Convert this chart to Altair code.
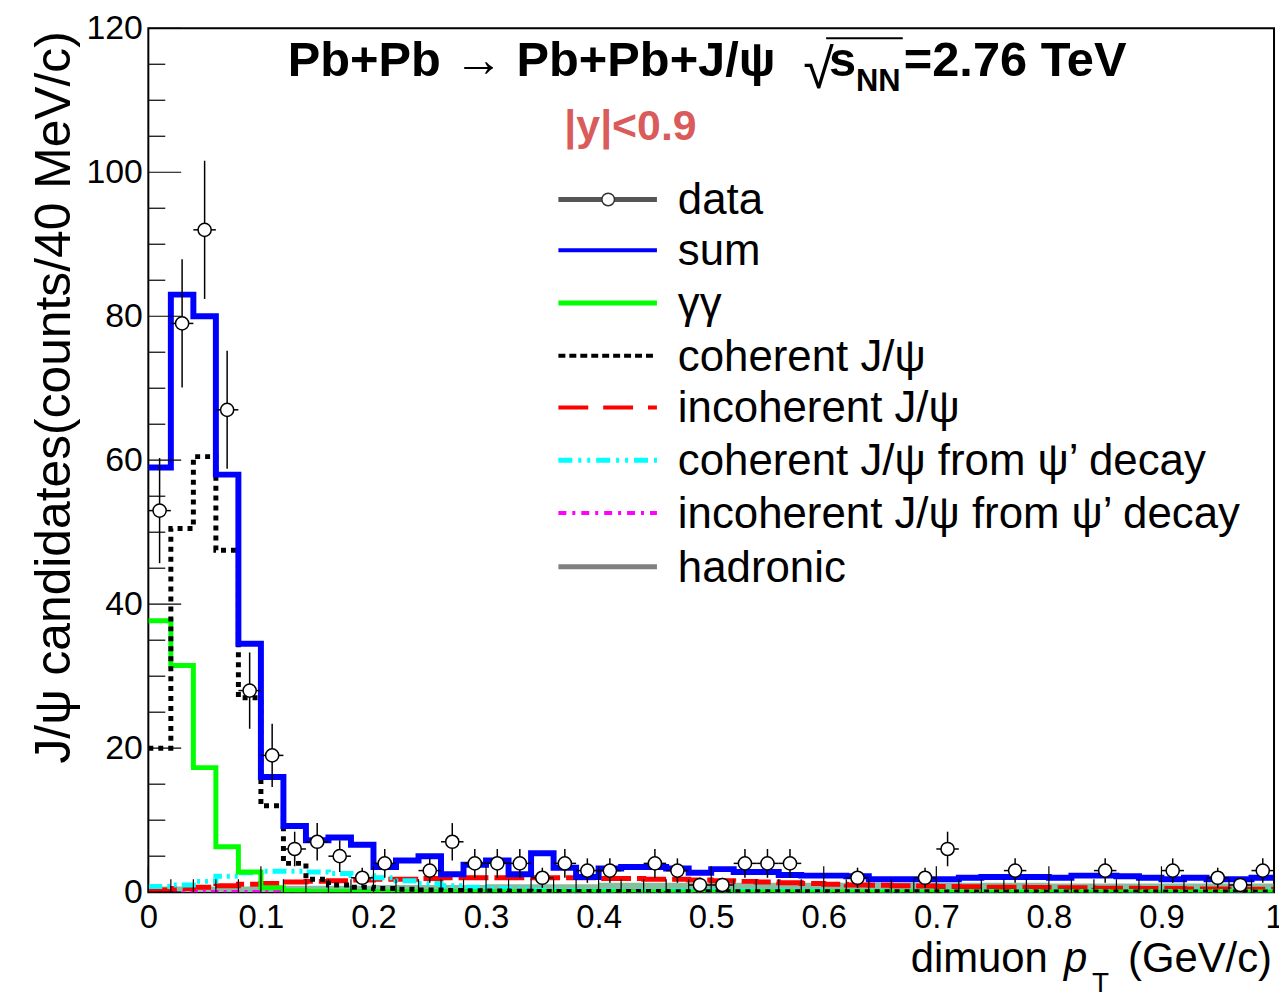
import altair as alt
import pandas as pd

# ---------------- data ----------------
edges = [0.00, 0.02, 0.04, 0.06, 0.08, 0.10, 0.12, 0.14, 0.16, 0.18,
         0.20, 0.22, 0.24, 0.26, 0.28, 0.30, 0.32, 0.34, 0.36, 0.38,
         0.40, 0.42, 0.44, 0.46, 0.48, 0.50, 0.52, 0.54, 0.56, 0.58,
         0.60, 0.62, 0.64, 0.66, 0.68, 0.70, 0.72, 0.74, 0.76, 0.78,
         0.80, 0.82, 0.84, 0.86, 0.88, 0.90, 0.92, 0.94, 0.96, 0.98, 1.00]

sum_vals = [59, 83, 80, 58, 34.5, 16, 9.2, 7.2, 7.6, 6.6,
            3.5, 4.4, 5.0, 2.5, 3.8, 4.4, 2.5, 5.4, 3.4, 2.1,
            3.3, 3.5, 3.5, 3.3, 2.7, 3.2, 2.8, 2.8, 2.4, 2.3,
            2.3, 2.2, 1.8, 1.8, 1.8, 1.8, 2.0, 2.1, 2.1, 2.1,
            2.0, 2.3, 2.3, 2.2, 2.0, 1.8, 2.0, 1.8, 1.8, 2.0]

coh_vals = [20, 50.5, 60.5, 47.5, 27, 12, 4, 1.8, 1.0, 0.7,
            0.5, 0.4, 0.3, 0.25, 0.2, 0.15, 0.12, 0.1, 0.1, 0.1,
            0.08, 0.08, 0.08, 0.07, 0.07, 0.07, 0.06, 0.06, 0.06, 0.05,
            0.05, 0.05, 0.05, 0.05, 0.05, 0.04, 0.04, 0.04, 0.04, 0.04,
            0.04, 0.03, 0.03, 0.03, 0.03, 0.03, 0.03, 0.03, 0.03, 0.03]

gg_vals = [37.7, 31.5, 17.3, 6.3, 2.8, 0.6, 0.2, 0.1, 0.1, 0.05,
           0.05, 0.05, 0.05, 0.05, 0.05, 0.05, 0.05, 0.05, 0.05, 0.05,
           0.04, 0.04, 0.04, 0.04, 0.04, 0.04, 0.04, 0.04, 0.04, 0.04,
           0.03, 0.03, 0.03, 0.03, 0.03, 0.03, 0.03, 0.03, 0.03, 0.03,
           0.03, 0.03, 0.03, 0.03, 0.03, 0.03, 0.03, 0.03, 0.03, 0.03]

incoh_vals = [0.3, 0.5, 0.7, 0.9, 1.1, 1.2, 1.4, 1.5, 1.6, 1.7,
              1.8, 1.8, 1.9, 2.0, 2.0, 2.0, 2.0, 2.0, 2.0, 2.0,
              1.9, 1.9, 1.8, 1.8, 1.7, 1.6, 1.5, 1.4, 1.3, 1.2,
              1.1, 1.0, 0.95, 0.9, 0.85, 0.8, 0.75, 0.7, 0.7, 0.65,
              0.6, 0.6, 0.55, 0.55, 0.5, 0.5, 0.45, 0.45, 0.4, 0.4]

cohpsi_vals = [0.8, 1.0, 1.5, 2.2, 2.7, 2.9, 2.9, 2.8, 2.6, 2.3,
               2.0, 1.6, 1.2, 0.9, 0.7, 0.5, 0.4, 0.3, 0.25, 0.2,
               0.15, 0.15, 0.15, 0.15, 0.15, 0.15, 0.15, 0.15, 0.15, 0.15,
               0.1, 0.1, 0.1, 0.1, 0.1, 0.1, 0.1, 0.1, 0.1, 0.1,
               0.1, 0.1, 0.1, 0.1, 0.1, 0.1, 0.1, 0.1, 0.1, 0.1]

incohpsi_vals = [0.05, 0.05, 0.08, 0.1, 0.1, 0.12, 0.12, 0.15, 0.15, 0.15,
                 0.15, 0.15, 0.15, 0.15, 0.15, 0.15, 0.15, 0.15, 0.15, 0.15,
                 0.15, 0.15, 0.12, 0.12, 0.12, 0.12, 0.12, 0.1, 0.1, 0.1,
                 0.1, 0.1, 0.1, 0.08, 0.08, 0.08, 0.08, 0.08, 0.08, 0.08,
                 0.06, 0.06, 0.06, 0.06, 0.06, 0.06, 0.05, 0.05, 0.05, 0.05]

had_vals = [0.8, 0.8, 0.8, 0.8, 0.8, 0.9, 0.9, 0.9, 0.9, 0.9,
            1.0, 1.0, 1.0, 1.0, 1.0, 1.1, 1.1, 1.1, 1.1, 1.1,
            1.3, 1.3, 1.3, 1.3, 1.3, 1.3, 1.3, 1.3, 1.3, 1.3,
            1.3, 1.3, 1.3, 1.3, 1.3, 1.3, 1.3, 1.3, 1.3, 1.3,
            1.2, 1.2, 1.2, 1.2, 1.2, 1.2, 1.2, 1.2, 1.2, 1.2]

data_x = [0.01, 0.03, 0.05, 0.07, 0.09, 0.11, 0.13, 0.15, 0.17, 0.19,
          0.21, 0.25, 0.27, 0.29, 0.31, 0.33, 0.35, 0.37, 0.39, 0.41,
          0.45, 0.47, 0.49, 0.51, 0.53, 0.55, 0.57, 0.63, 0.69, 0.71,
          0.77, 0.85, 0.91, 0.95, 0.97, 0.99]
data_y = [53, 79, 92, 67, 28, 19, 6, 7, 5, 2,
          4, 3, 7, 4, 4, 4, 2, 4, 3, 3,
          4, 3, 1, 1, 4, 4, 4, 2, 2, 6,
          3, 3, 3, 2, 1, 3]
data_err = [7.3, 8.9, 9.6, 8.2, 5.3, 4.4, 2.4, 2.6, 2.2, 1.4,
            2.0, 1.7, 2.6, 2.0, 2.0, 2.0, 1.4, 2.0, 1.7, 1.7,
            2.0, 1.7, 1.0, 1.0, 2.0, 2.0, 2.0, 1.4, 1.4, 2.4,
            1.7, 1.7, 1.7, 1.4, 1.0, 1.7]
bin_half = 0.01

x_ticks_major = [0, 0.1, 0.2, 0.3, 0.4, 0.5, 0.6, 0.7, 0.8, 0.9, 1.0]
x_ticks_minor = [e for e in edges if round(e * 10, 6) % 1 != 0]
y_ticks_major = [0, 20, 40, 60, 80, 100, 120]
y_ticks_minor = [v for v in range(0, 121, 5) if v % 20 != 0]

# ---------------- layout constants ----------------
W, H = 1131, 868
FONT = "Liberation Sans"

xs = alt.Scale(domain=[0, 1], nice=False, zero=False)
ys = alt.Scale(domain=[0, 120], nice=False, zero=False)
x_axis = alt.Axis(values=x_ticks_major, format="~g", ticks=False, domain=False, grid=False,
                  labelFontSize=33, labelFont=FONT, labelColor="black", labelPadding=9,
                  labelFlush=False, labelOverlap=False, title=None)
y_axis = alt.Axis(values=y_ticks_major, ticks=False, domain=False, grid=False,
                  labelFontSize=34, labelFont=FONT, labelColor="black", labelPadding=6,
                  labelFlush=False, labelOverlap=False, title=None)


def X(field):
    return alt.X(field, type="quantitative", scale=xs, axis=x_axis)


def Y(field):
    return alt.Y(field, type="quantitative", scale=ys, axis=y_axis)


def step_df(vals):
    return pd.DataFrame({"x": edges, "y": list(vals) + [vals[-1]]})


def step_line(vals, color, width, dash=None):
    kw = dict(interpolate="step-after", color=color, strokeWidth=width, clip=True)
    if dash:
        kw["strokeDash"] = dash
    return alt.Chart(step_df(vals)).mark_line(**kw).encode(x=X("x"), y=Y("y"))


layers = []

# hadronic (filled)
layers.append(alt.Chart(step_df(had_vals)).mark_area(
    interpolate="step-after", color="#86bfa0", clip=True).encode(x=X("x"), y=Y("y")))
layers.append(step_line(incohpsi_vals, "#ff00ff", 3, [8, 5, 3, 5]))
layers.append(step_line(incoh_vals, "#ff0000", 5, [30, 6]))
layers.append(step_line(cohpsi_vals, "#00ffff", 5, [14, 5, 3, 5, 3, 5]))
layers.append(step_line(gg_vals, "#00ff00", 5))
layers.append(step_line(coh_vals, "#000000", 5, [5, 5]))
layers.append(step_line(sum_vals, "#0000ff", 6))

# data points with error bars
ddf = pd.DataFrame({"x": data_x, "y": data_y, "err": data_err})
ddf["lo"] = ddf["y"] - ddf["err"]
ddf["hi"] = ddf["y"] + ddf["err"]
ddf["xl"] = ddf["x"] - bin_half
ddf["xh"] = ddf["x"] + bin_half
base = alt.Chart(ddf)
layers.append(base.mark_rule(color="black", strokeWidth=1.5).encode(
    x=X("x"), y=Y("lo"), y2="hi"))
layers.append(base.mark_rule(color="black", strokeWidth=1.5).encode(
    x=X("xl"), x2="xh", y=Y("y")))
layers.append(base.mark_point(shape="circle", size=175, filled=False, fill="white",
                              fillOpacity=1, stroke="black", strokeWidth=1.5, opacity=1).encode(
    x=X("x"), y=Y("y")))

# inside ticks
layers.append(alt.Chart(pd.DataFrame({"v": y_ticks_major})).mark_rule(color="black", strokeWidth=1.2).encode(
    y=Y("v"), x=alt.value(0), x2=alt.value(33)))
layers.append(alt.Chart(pd.DataFrame({"v": y_ticks_minor})).mark_rule(color="black", strokeWidth=1.2).encode(
    y=Y("v"), x=alt.value(0), x2=alt.value(17)))
layers.append(alt.Chart(pd.DataFrame({"v": x_ticks_major})).mark_rule(color="black", strokeWidth=1.2).encode(
    x=X("v"), y=alt.value(H), y2=alt.value(H - 26)))
layers.append(alt.Chart(pd.DataFrame({"v": x_ticks_minor})).mark_rule(color="black", strokeWidth=1.2).encode(
    x=X("v"), y=alt.value(H), y2=alt.value(H - 13)))


# ---------------- annotations (pixel positions relative to plot origin) ----------------
def text(s, x, y, size, weight="normal", color="black", align="left", style="normal",
         angle=0, baseline="alphabetic", font=FONT):
    kw = dict(fontSize=size, fontWeight=weight, color=color, align=align, font=font,
              baseline=baseline, fontStyle=style)
    if angle:
        kw["angle"] = angle
    return alt.Chart(pd.DataFrame({"t": [s]})).mark_text(**kw).encode(
        text="t:N", x=alt.value(x), y=alt.value(y))


# title
layers.append(text("Pb+Pb \u2192 Pb+Pb+J/\u03c8", 140, 48, 49, "bold"))
layers.append(text("\u221a", 658, 60, 56, "normal"))
layers.append(alt.Chart(pd.DataFrame({"a": [0]})).mark_rule(color="black", strokeWidth=2).encode(
    x=alt.value(681), x2=alt.value(758), y=alt.value(10)))
layers.append(text("s", 684, 48, 49, "bold"))
layers.append(text("NN", 711, 63, 31, "bold"))
layers.append(text("=2.76 TeV", 759, 48, 49, "bold"))
layers.append(text("|y|<0.9", 418, 112, 43, "bold", color="#d95b5b"))

# legend
leg_y = [172, 223, 276, 329, 381, 434, 487, 541]
leg_labels = ["data", "sum", "\u03b3\u03b3", "coherent J/\u03c8", "incoherent J/\u03c8",
              "coherent J/\u03c8 from \u03c8\u2019 decay", "incoherent J/\u03c8 from \u03c8\u2019 decay",
              "hadronic"]
leg_colors = ["#555555", "#0000ff", "#00ff00", "#000000", "#ff0000", "#00ffff", "#ff00ff", "#808080"]
leg_widths = [5, 4, 5, 4, 4, 5, 4, 5]
leg_dash = [None, None, None, [7, 4], [30, 15], [14, 6, 3, 6, 3, 6], [8, 6, 3, 6], None]
LX0, LX1, TX = 412, 511, 532
for yy, lab, col, wd, ds in zip(leg_y, leg_labels, leg_colors, leg_widths, leg_dash):
    kw = dict(color=col, strokeWidth=wd)
    if ds:
        kw["strokeDash"] = ds
    layers.append(alt.Chart(pd.DataFrame({"a": [0]})).mark_rule(**kw).encode(
        x=alt.value(LX0), x2=alt.value(LX1), y=alt.value(yy)))
    layers.append(text(lab, TX, yy + 15, 44))
layers.append(alt.Chart(pd.DataFrame({"a": [0]})).mark_point(
    shape="circle", size=160, filled=False, fill="white", fillOpacity=1, stroke="#333333",
    strokeWidth=1.5, opacity=1).encode(x=alt.value(462), y=alt.value(leg_y[0])))

# axis titles
layers.append(text("J/\u03c8 candidates(counts/40 MeV/c)", -79, 3, 50, angle=270, align="right"))
layers.append(text("dimuon", 766, 948, 42))
layers.append(text("p", 920, 948, 42, style="italic"))
layers.append(text("T", 948, 968, 28))
layers.append(text("(GeV/c)", 1129, 948, 42, align="right"))

chart = alt.layer(*layers).properties(
    width=W, height=H,
    autosize=alt.AutoSizeParams(type="none"),
    padding={"left": 141, "top": 18, "right": 5, "bottom": 110},
    background="white",
).configure_view(stroke="black", strokeWidth=2)

chart.save("out.html", embed_options={"renderer": "svg", "actions": False})
